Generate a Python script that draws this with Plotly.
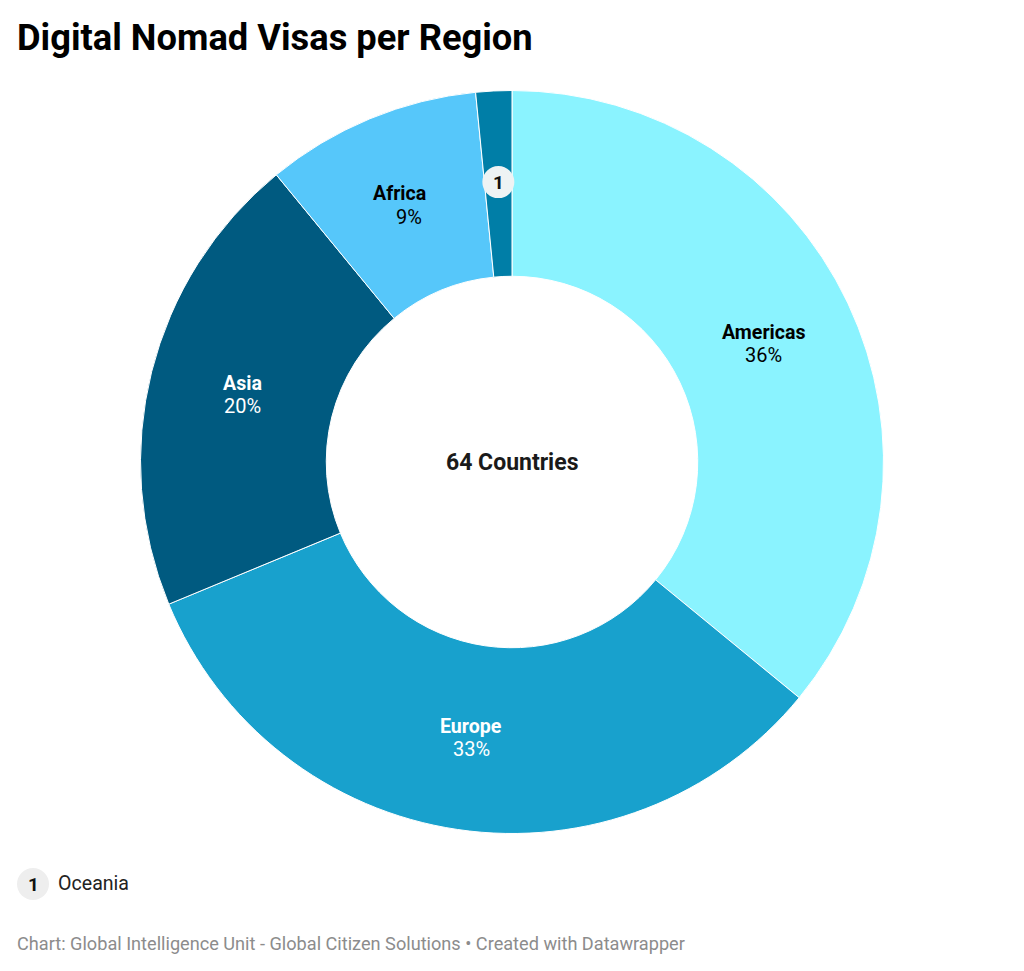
import math
import plotly.graph_objects as go

regions = ['Americas', 'Europe', 'Asia', 'Africa', 'Oceania']
countries = [23, 21, 13, 6, 1]
percent_labels = ['36%', '33%', '20%', '9%', '']
colors = ['#8af3ff', '#18a1cd', '#005a80', '#56c7fa', '#007ea7']
label_colors = ['#000000', '#ffffff', '#ffffff', '#000000', '#000000']

# the page has an 8px body margin, so the figure is a bit smaller than the window
PAGE = 8
W, H = 1024 - PAGE, 971 - PAGE
cx, cy, R = 512, 462, 371
total = sum(countries)


def px(x):
    return (x - PAGE) / W


def py(y):
    return 1 - (y - PAGE) / H


def label_pos(i):
    # middle of the slice, 3/4 of the way out
    mid = (sum(countries[:i]) + countries[i] / 2) / total * 2 * math.pi
    return cx + 0.75 * R * math.sin(mid), cy - 0.75 * R * math.cos(mid)


fig = go.Figure()

fig.add_trace(go.Pie(
    labels=regions,
    values=countries,
    hole=0.5,
    sort=False,
    direction='clockwise',
    rotation=0,
    textinfo='none',
    hoverinfo='label+value',
    showlegend=False,
    marker=dict(colors=colors, line=dict(color='#ffffff', width=1)),
    domain=dict(x=[px(cx - R - 0.5), px(cx + R + 0.5)], y=[py(cy + R + 0.5), py(cy - R - 0.5)]),
))

annotations = []
shapes = []


def text(x, y, s, size, color, anchor='center', bold=False, xshift=0, yshift=0):
    annotations.append(dict(
        x=px(x), y=py(y), xref='paper', yref='paper', showarrow=False,
        text='<b>%s</b>' % s if bold else s,
        xanchor=anchor, yanchor='middle', xshift=xshift, yshift=yshift,
        borderpad=0, borderwidth=0,
        font=dict(family='Roboto', size=size, color=color),
    ))


def badge(x, y, r, fill):
    shapes.append(dict(
        type='circle', xref='paper', yref='paper',
        x0=px(x - r), x1=px(x + r), y0=py(y + r), y1=py(y - r),
        fillcolor=fill, line=dict(width=0),
    ))


# Africa's two lines sit slightly apart in the original
name_shift = [0, 0, 0, -6, 0]
pct_shift = [0, 0, 0, 3, 0]

for i, region in enumerate(regions[:4]):
    x, y = label_pos(i)
    text(x, y, region, 19.6, label_colors[i], bold=True, xshift=name_shift[i], yshift=11)
    text(x, y, percent_labels[i], 20, label_colors[i], xshift=pct_shift[i], yshift=-12)

# Oceania is too thin for a label, so it gets a numbered badge and a key
x, y = label_pos(4)
badge(x, y - 2, 16, '#eef3f4')
text(x, y - 2, '1', 19, '#111111', bold=True)
badge(33, 884, 16, '#eeeeee')
text(33, 884, '1', 19, '#111111', bold=True)
text(58, 883, 'Oceania', 19.6, '#222222', anchor='left')

text(cx, 462, '64 Countries', 23, '#1a1a1a', bold=True)
text(17, 37, 'Digital Nomad Visas per Region', 36.3, '#000000', anchor='left', bold=True)
text(17, 943, 'Chart: Global Intelligence Unit - Global Citizen Solutions • Created with Datawrapper',
     18.15, '#8c8c8c', anchor='left')

fig.update_layout(
    width=W,
    height=H,
    margin=dict(l=0, r=0, t=0, b=0),
    paper_bgcolor='#ffffff',
    annotations=annotations,
    shapes=shapes,
)

fig.write_html("out.html")
